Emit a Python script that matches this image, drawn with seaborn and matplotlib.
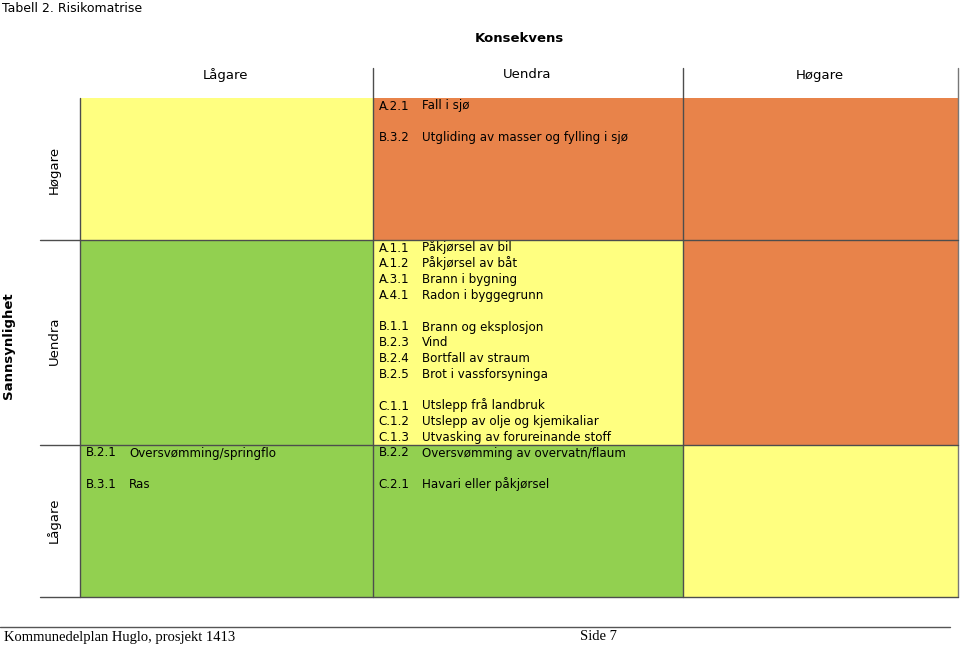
import numpy as np
import matplotlib.pyplot as plt
from matplotlib.colors import ListedColormap
from matplotlib.lines import Line2D
from matplotlib.transforms import ScaledTranslation
import seaborn as sns

sns.set_theme(style="white")
plt.rcParams['font.family'] = ['DejaVu Sans']

# Data
consequence_labels = ["Lågare", "Uendra", "Høgare"]
probability_labels = ["Høgare", "Uendra", "Lågare"]  # top to bottom
# 0 = green (low), 1 = yellow (medium), 2 = orange (high)
risk_level = [
    [1, 2, 2],
    [0, 1, 2],
    [0, 0, 1],
]
high_row_items = [
    [],
    ["A.2.1 Fall i sjø", "", "B.3.2 Utgliding av masser og fylling i sjø"],
    [],
]
mid_row_items = [
    [],
    ["A.1.1 Påkjørsel av bil", "A.1.2 Påkjørsel av båt", "A.3.1 Brann i bygning",
     "A.4.1 Radon i byggegrunn", "",
     "B.1.1 Brann og eksplosjon", "B.2.3 Vind", "B.2.4 Bortfall av straum",
     "B.2.5 Brot i vassforsyninga", "",
     "C.1.1 Utslepp frå landbruk", "C.1.2 Utslepp av olje og kjemikaliar",
     "C.1.3 Utvasking av forureinande stoff"],
    [],
]
low_row_items = [
    ["B.2.1 Oversvømming/springflo", "", "B.3.1 Ras"],
    ["B.2.2 Oversvømming av overvatn/flaum", "", "C.2.1 Havari eller påkjørsel"],
    [],
]
cell_items = [high_row_items, mid_row_items, low_row_items]

colors = ["#92D050", "#FFFF80", "#E8834A"]
cmap = ListedColormap(colors)

W, H = 960, 646
fig = plt.figure(figsize=(W / 100, H / 100), dpi=100)


def fx(x):
    return x / W


def fy(y):
    return 1 - y / H


col_edges = [80, 373, 683, 958]
row_edges = [98, 240, 445, 597]
line_step = 15.8

for r in range(3):
    top, bot = row_edges[r], row_edges[r + 1]
    for c in range(3):
        left, right = col_edges[c], col_edges[c + 1]
        ax = fig.add_axes([fx(left), fy(bot), (right - left) / W, (bot - top) / H])
        sns.heatmap(np.array([[risk_level[r][c]]]), cmap=cmap, vmin=-0.5, vmax=2.5,
                    cbar=False, xticklabels=False, yticklabels=False, ax=ax)
        for i, line in enumerate(cell_items[r][c]):
            if not line:
                continue
            code, desc = line.split(" ", 1)
            dy = (11.5 + i * line_step) / 100
            for dx, s in [(5.5, code), (49, desc)]:
                tr = ax.transData + ScaledTranslation(dx / 100, -dy, fig.dpi_scale_trans)
                ax.text(0, 0, s, transform=tr, va="baseline", ha="left",
                        fontsize=8.6, color="black")


def add_line(x1, y1, x2, y2, color="#4d4d4d", lw=1.0):
    fig.add_artist(Line2D([fx(x1), fx(x2)], [fy(y1), fy(y2)],
                          transform=fig.transFigure, color=color, lw=lw))


# grid lines
add_line(80, 98, 80, 597)
for x in col_edges[1:]:
    add_line(x, 68, x, 597, color="#777777" if x == 958 else "#4d4d4d")
for y in row_edges[1:]:
    add_line(40, y, 958, y)

# headers
fig.text(fx(2), fy(8), "Tabell 2. Risikomatrise", fontsize=9, va="center", ha="left",
         color="black")
fig.text(fx(519), fy(39), "Konsekvens", fontsize=9.5, fontweight="bold", va="center",
         ha="center", color="black")
col_centers = [226, 527, 820]
for lab, xc in zip(consequence_labels, col_centers):
    fig.text(fx(xc), fy(75), lab, fontsize=9.5, va="center", ha="center", color="black")
row_centers = [170, 341, 520]
for lab, yc in zip(probability_labels, row_centers):
    fig.text(fx(54), fy(yc), lab, fontsize=9.5, rotation=90, va="center", ha="center",
             color="black")
fig.text(fx(9), fy(346), "Sannsynlighet", fontsize=9.5, fontweight="bold",
         rotation=90, va="center", ha="center", color="black")

# footer
add_line(0, 627, 950, 627, color="#555555")
fig.text(fx(4), fy(637), "Kommunedelplan Huglo, prosjekt 1413", fontsize=10.5,
         family=["Liberation Serif", "DejaVu Serif"], va="center", ha="left", color="black")
fig.text(fx(580), fy(637), "Side 7", fontsize=10.5,
         family=["Liberation Serif", "DejaVu Serif"], va="center", ha="left", color="black")

plt.savefig("out.png", dpi=100)
